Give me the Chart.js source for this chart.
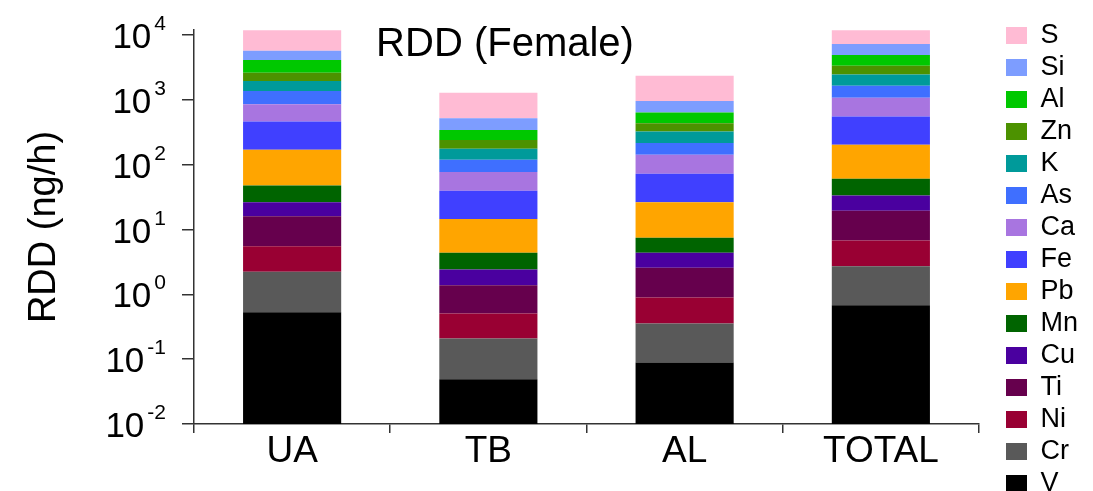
<!DOCTYPE html>
<html lang="en">
<head>
<meta charset="UTF-8" />
<title>RDD (Female)</title>
<script src="https://cdn.jsdelivr.net/npm/chart.js"></script>
<style>
  html, body { margin: 0; padding: 0; background: #fff; overflow: hidden; }
  #wrap { width: 1093px; height: 502px; }
</style>
</head>
<body>
<div id="wrap"><canvas id="rddChart"></canvas></div>
<script>
  // categories and elements, bottom of the stack first
  const categories = ["UA", "TB", "AL", "TOTAL"];
  const elements = ["V", "Cr", "Ni", "Ti", "Cu", "Mn", "Pb", "Fe", "Ca", "As", "K", "Zn", "Al", "Si", "S"];

  // RDD per element (ng/h), order: UA, TB, AL, TOTAL
  const V  = [0.53, 0.049, 0.089, 0.68];
  const Cr = [1.71, 0.16, 0.265, 2.04];
  const Ni = [3.3, 0.30, 0.54, 4.05];
  const Ti = [10.5, 0.87, 1.68, 12.8];
  const Cu = [10.3, 1.05, 1.81, 14.1];
  const Mn = [21.7, 1.96, 3.07, 27.2];
  const Pb = [122, 10.2, 18.9, 142];
  const Fe = [293, 25.2, 46.4, 350];
  const Ca = [396, 37.4, 69.8, 531];
  const As = [516, 41.8, 73.5, 576];
  const K  = [585, 57, 109, 820];
  const Zn = [670, 66, 113, 890];
  const Al = [1490, 103, 200, 1550];
  const Si = [1610, 178, 328, 2360];
  const S  = [6170, 772, 1400, 4660];
  const values = [V, Cr, Ni, Ti, Cu, Mn, Pb, Fe, Ca, As, K, Zn, Al, Si, S];

  const colors = ["#000000", "#595959", "#990033", "#66004d", "#4a009f", "#006400", "#ffa500",
                  "#4040ff", "#a875e0", "#3f6fff", "#009a9a", "#4c9200", "#00c800", "#7d9dff", "#ffbbd4"];

  const yTicks = [0.01, 0.1, 1, 10, 100, 1000, 10000];
  const yExponents = ["-2", "-1", "0", "1", "2", "3", "4"];

  const FONT = '"Liberation Sans", Arial, Helvetica, sans-serif';

  // draws 10^n tick labels and the chart title inside the plot
  const textPlugin = {
    id: "textPlugin",
    afterDraw(chart) {
      const ctx = chart.ctx;
      const y = chart.scales.y;
      ctx.save();
      ctx.fillStyle = "#000";
      ctx.textAlign = "right";
      ctx.textBaseline = "alphabetic";
      const right = y.right - 28;
      yTicks.forEach((v, i) => {
        const py = y.getPixelForValue(v);
        ctx.font = "21px " + FONT;
        const ew = ctx.measureText(yExponents[i]).width;
        ctx.fillText(yExponents[i], right, py - 5);
        ctx.font = "35px " + FONT;
        ctx.fillText("10", right - ew - 3, py + 13);
      });
      ctx.font = "40px " + FONT;
      ctx.textAlign = "center";
      ctx.textBaseline = "middle";
      ctx.fillText("RDD (Female)", 505, 45);
      ctx.restore();
    }
  };

  const datasets = elements.map((name, i) => ({
    label: name,
    data: values[i],
    backgroundColor: colors[i],
    borderWidth: 0,
    barPercentage: 0.5,
    categoryPercentage: 1.0
  }));

  new Chart(document.getElementById("rddChart"), {
    type: "bar",
    data: { labels: categories, datasets: datasets },
    plugins: [textPlugin],
    options: {
      responsive: true,
      maintainAspectRatio: false,
      animation: false,
      layout: { padding: { top: 0, right: 5, bottom: 0, left: 0 } },
      plugins: {
        tooltip: { enabled: false },
        legend: {
          position: "right",
          align: "end",
          reverse: true,
          labels: {
            color: "#000",
            font: { size: 27, family: FONT },
            boxWidth: 21,
            boxHeight: 17,
            padding: 5
          }
        }
      },
      scales: {
        x: {
          stacked: true,
          afterFit: s => { s.height = 78; },
          grid: { offset: true, drawOnChartArea: false, tickLength: 9, color: "#333", lineWidth: 1.5 },
          border: { color: "#333", width: 1.5 },
          ticks: { color: "#000", font: { size: 37, family: FONT }, padding: -3, maxRotation: 0, autoSkip: false }
        },
        y: {
          type: "logarithmic",
          stacked: true,
          min: 0.01,
          max: 12000,
          afterBuildTicks: s => { s.ticks = yTicks.map(v => ({ value: v })); },
          afterFit: s => { s.width = 194; },
          ticks: { display: false },
          grid: { drawOnChartArea: false, tickLength: 12, color: "#333", lineWidth: 1.5 },
          border: { color: "#333", width: 1.5 },
          title: {
            display: true,
            text: "RDD (ng/h)",
            color: "#000",
            font: { size: 38, family: FONT },
            padding: { top: 22, bottom: 0 }
          }
        },
        xTop: {
          type: "category",
          position: "top",
          grid: { display: false },
          border: { display: false },
          ticks: { display: false },
          afterFit: s => { s.height = 30; }
        },
        yRight: {
          type: "linear",
          position: "right",
          grid: { display: false },
          border: { display: false },
          ticks: { display: false },
          afterFit: s => { s.width = 22; }
        }
      }
    }
  });
</script>
</body>
</html>
